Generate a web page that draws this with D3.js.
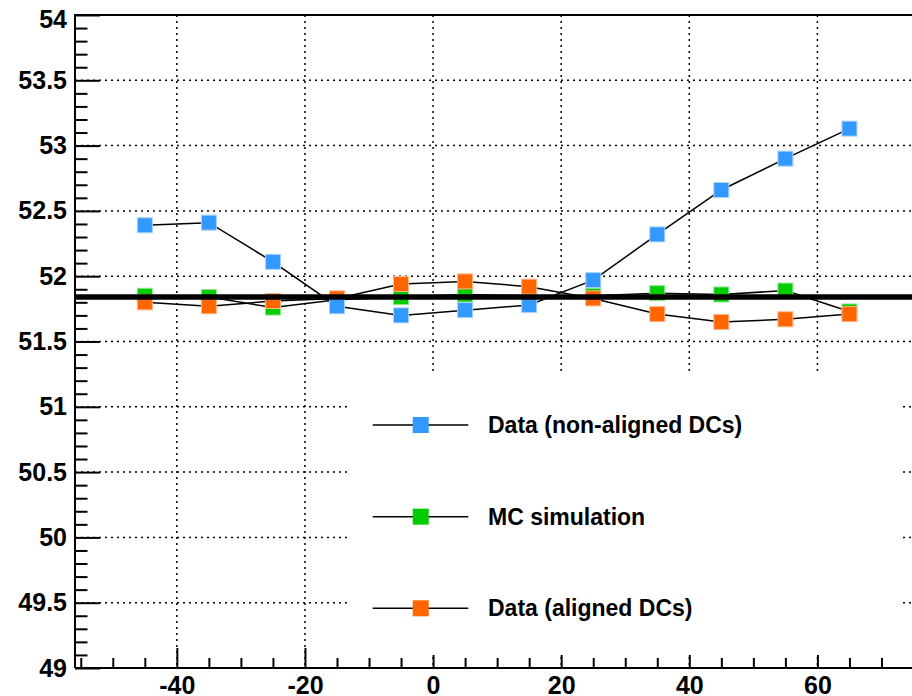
<!DOCTYPE html>
<html>
<head>
<meta charset="utf-8">
<script src="https://cdn.jsdelivr.net/npm/d3@7"></script>
<style>
  body { margin: 0; background: #fff; }
  svg { display: block; font-family: "Liberation Sans", Arial, Helvetica, sans-serif; font-weight: bold; }
</style>
</head>
<body>
<svg id="chart" width="912" height="696"></svg>
<script>
// bin centres
const xValues = [-45, -35, -25, -15, -5, 5, 15, 25, 35, 45, 55, 65];

const nonAligned = [52.39, 52.41, 52.11, 51.77, 51.70, 51.74, 51.78, 51.97, 52.32, 52.66, 52.90, 53.13];
const mcSim      = [51.85, 51.84, 51.76, 51.82, 51.84, 51.86, 51.85, 51.85, 51.87, 51.86, 51.89, 51.73];
const aligned    = [51.80, 51.77, 51.81, 51.83, 51.94, 51.96, 51.92, 51.83, 51.71, 51.65, 51.67, 51.71];

const refValue = 51.84;

const seriesNames = ["Data (non-aligned DCs)", "MC simulation", "Data (aligned DCs)"];
const seriesColors = ["#3399ff", "#00cc00", "#ff6600"];
const seriesEdge = ["#a8d2ff", "#8ee68e", "#ffb585"];

const xMajor = [-40, -20, 0, 20, 40, 60];
const xMinor = d3.range(-55, 75, 5).filter(d => d % 20 !== 0);
const yMajor = [49, 49.5, 50, 50.5, 51, 51.5, 52, 52.5, 53, 53.5, 54];
const yMinor = d3.range(490, 541, 1).map(d => d / 10).filter(d => Math.round(d * 10) % 5 !== 0);

const plotLeft = 75, plotTop = 15, plotBottom = 668;

const svg = d3.select("#chart");

const x = d3.scaleLinear().domain([-55.9, 75]).range([plotLeft, 913.5]);
const y = d3.scaleLinear().domain([49, 54]).range([plotBottom, plotTop]);

// grid
const grid = svg.append("g")
  .attr("stroke", "#000")
  .attr("stroke-width", 1.5)
  .attr("stroke-dasharray", "2,4");
grid.selectAll(".gx").data(xMajor).join("line")
  .attr("x1", d => x(d)).attr("x2", d => x(d))
  .attr("y1", plotTop).attr("y2", plotBottom);
grid.selectAll(".gy").data(yMajor.slice(1, -1)).join("line")
  .attr("x1", plotLeft).attr("x2", 912)
  .attr("y1", d => y(d)).attr("y2", d => y(d));

// minor ticks
svg.append("g")
  .attr("transform", `translate(${plotLeft},0)`)
  .call(d3.axisLeft(y).tickValues(yMinor).tickSize(-12.5).tickSizeOuter(0).tickFormat(""))
  .call(g => g.select(".domain").remove())
  .selectAll("line").attr("stroke-width", 2);
svg.append("g")
  .attr("transform", `translate(0,${plotBottom})`)
  .call(d3.axisBottom(x).tickValues(xMinor).tickSize(-10).tickSizeOuter(0).tickFormat(""))
  .call(g => g.select(".domain").remove())
  .selectAll("line").attr("stroke-width", 2);

// major ticks + labels
const yAxis = svg.append("g")
  .attr("transform", `translate(${plotLeft},0)`)
  .call(d3.axisLeft(y).tickValues(yMajor).tickSize(-25).tickSizeOuter(0).tickPadding(8)
    .tickFormat(d => String(d)));
yAxis.select(".domain").remove();
yAxis.selectAll("line").attr("stroke-width", 2);
yAxis.selectAll("text").attr("font-size", 25).attr("font-weight", "bold").attr("fill", "#000")
  .attr("font-family", "Liberation Sans, Arial, sans-serif");
yAxis.selectAll(".tick").filter(d => d === 54).select("text").attr("dy", "0.48em");

// plain hyphen for negatives, like the original
const xAxis = svg.append("g")
  .attr("transform", `translate(0,${plotBottom})`)
  .call(d3.axisBottom(x).tickValues(xMajor).tickSize(-20).tickSizeOuter(0).tickPadding(8)
    .tickFormat(d => String(d)));
xAxis.select(".domain").remove();
xAxis.selectAll("line").attr("stroke-width", 2);
xAxis.selectAll("text").attr("font-size", 25).attr("font-weight", "bold").attr("fill", "#000")
  .attr("font-family", "Liberation Sans, Arial, sans-serif");

// frame
svg.append("path")
  .attr("d", `M${plotLeft},${plotBottom}H913.5M${plotLeft},${plotBottom}V${plotTop}H913.5`)
  .attr("fill", "none").attr("stroke", "#000").attr("stroke-width", 2);

// graphs: draw MC first, then aligned, then non-aligned on top
const seriesData = [nonAligned, mcSim, aligned];
const drawOrder = [1, 2, 0];
const line = d3.line().x((d, i) => x(xValues[i])).y(d => y(d));
const msize = 15;

drawOrder.forEach(k => {
  const g = svg.append("g");
  g.append("path")
    .datum(seriesData[k])
    .attr("d", line)
    .attr("fill", "none")
    .attr("stroke", "#000")
    .attr("stroke-width", 1.5);
  g.selectAll("rect")
    .data(seriesData[k])
    .join("rect")
    .attr("x", (d, i) => x(xValues[i]) - msize / 2)
    .attr("y", d => y(d) - msize / 2)
    .attr("width", msize)
    .attr("height", msize)
    .attr("fill", seriesColors[k])
    .attr("stroke", seriesEdge[k])
    .attr("stroke-width", 1);
});

// reference line
svg.append("line")
  .attr("x1", plotLeft).attr("x2", 912)
  .attr("y1", y(refValue)).attr("y2", y(refValue))
  .attr("stroke", "#000").attr("stroke-width", 5.5);

// legend
svg.append("rect")
  .attr("x", 350).attr("y", 375).attr("width", 550).attr("height", 280)
  .attr("fill", "#fff");

const ly = d3.scalePoint().domain(seriesNames).range([425, 608.3]);
const legend = svg.append("g");
const entries = legend.selectAll("g").data(seriesNames).join("g")
  .attr("transform", d => `translate(0,${ly(d)})`);
entries.append("line")
  .attr("x1", 372.7).attr("x2", 468.3)
  .attr("stroke", "#000").attr("stroke-width", 1.5);
entries.append("rect")
  .attr("x", 420.7 - 8).attr("y", -8).attr("width", 16).attr("height", 16)
  .attr("fill", (d, i) => seriesColors[i]);
entries.append("text")
  .attr("x", 488).attr("y", 8)
  .attr("font-size", 23)
  .attr("fill", "#000")
  .text(d => d);
</script>
</body>
</html>
